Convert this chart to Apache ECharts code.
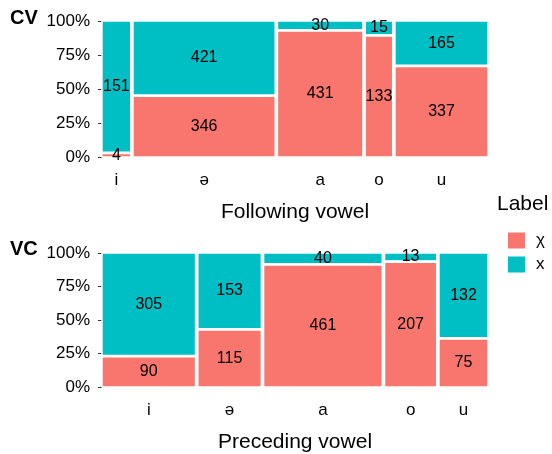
<!DOCTYPE html>
<html>
<head>
<meta charset="utf-8">
<script src="https://cdn.jsdelivr.net/npm/echarts@6/dist/echarts.min.js"></script>
<style>
  html, body { margin: 0; padding: 0; background: #fff; }
  #chart { width: 552px; height: 454px; }
</style>
</head>
<body>
<div id="chart"></div>
<script>
// Counts of each label by neighbouring vowel, for the two contexts
const vowels = ['i', 'ə', 'a', 'o', 'u'];
const labelNames = ['χ', 'x'];
const cvChi = [4, 346, 431, 133, 337];
const cvX = [151, 421, 30, 15, 165];
const vcChi = [90, 115, 461, 207, 75];
const vcX = [305, 153, 40, 13, 132];
const yTicks = [0, 0.25, 0.5, 0.75, 1];

const colors = { 'χ': '#F8766D', 'x': '#00BFC4' };
const FONT = 'Liberation Sans, Arial, sans-serif';
const GAP_X = 0.006;  // spacing between columns (fraction of the panel)
const GAP_Y = 0.01;   // spacing between stacked tiles

// Mosaic layout: column widths follow totals, tile heights follow shares
function mosaic(chi, x) {
  const totals = chi.map((c, i) => c + x[i]);
  const grand = totals.reduce((a, b) => a + b, 0);
  const usable = 1 - GAP_X * (totals.length - 1);
  let pos = 0;
  const red = [], cyan = [], centers = [];
  totals.forEach((t, i) => {
    const w = usable * t / grand;
    const x0 = pos, x1 = pos + w;
    const p = chi[i] / t;
    const ySplit = p * (1 - GAP_Y);
    red.push([x0, x1, 0, ySplit, chi[i]]);
    cyan.push([x0, x1, ySplit + GAP_Y, 1, x[i]]);
    centers.push((x0 + x1) / 2);
    pos = x1 + GAP_X;
  });
  return { red, cyan, centers };
}

const cv = mosaic(cvChi, cvX);
const vc = mosaic(vcChi, vcX);

function renderTile(params, api) {
  const a = api.coord([api.value(0), api.value(2)]);
  const b = api.coord([api.value(1), api.value(3)]);
  const color = colors[params.seriesName];
  return {
    type: 'rect',
    shape: { x: a[0], y: b[1], width: b[0] - a[0], height: a[1] - b[1] },
    style: { fill: color, stroke: '#ffffff', lineWidth: 1.4 },
    textContent: {
      style: {
        text: String(api.value(4)),
        fontFamily: FONT, fontSize: 16, fill: '#000'
      }
    },
    textConfig: { position: 'inside' }
  };
}

function xAxisFor(layout, title, gridIndex) {
  return {
    type: 'value', gridIndex, min: 0, max: 1,
    axisLine: { show: false }, axisTick: { show: false }, splitLine: { show: false },
    axisLabel: {
      customValues: layout.centers,
      margin: 15,
      fontFamily: FONT, fontSize: 17, color: '#000',
      formatter: v => {
        let best = 0;
        layout.centers.forEach((c, i) => {
          if (Math.abs(c - v) < Math.abs(layout.centers[best] - v)) best = i;
        });
        return vowels[best];
      }
    },
    name: title, nameLocation: 'middle', nameGap: 45,
    nameTextStyle: { fontFamily: FONT, fontSize: 21, color: '#000' }
  };
}

function yAxisFor(gridIndex) {
  return {
    type: 'value', gridIndex, min: 0, max: 1, interval: 0.25,
    axisLine: { show: false },
    axisTick: { show: true, length: 4, lineStyle: { color: '#333', width: 1 }, customValues: yTicks },
    splitLine: { show: false },
    axisLabel: {
      margin: 12, fontFamily: FONT, fontSize: 17, color: '#000',
      formatter: v => Math.round(v * 100) + '%'
    }
  };
}

function seriesFor(layout, idx) {
  return [
    { type: 'custom', name: 'χ', xAxisIndex: idx, yAxisIndex: idx, renderItem: renderTile,
      encode: { x: [0, 1], y: [2, 3] }, data: layout.red, itemStyle: { color: colors['χ'] } },
    { type: 'custom', name: 'x', xAxisIndex: idx, yAxisIndex: idx, renderItem: renderTile,
      encode: { x: [0, 1], y: [2, 3] }, data: layout.cyan, itemStyle: { color: colors['x'] } }
  ];
}

const chart = echarts.init(document.getElementById('chart'), null, { renderer: 'canvas' });
chart.setOption({
  animation: false,
  backgroundColor: '#fff',
  grid: [
    { left: 102, top: 21, width: 386, height: 136 },
    { left: 102, top: 253, width: 386, height: 136 }
  ],
  xAxis: [xAxisFor(cv, 'Following vowel', 0), xAxisFor(vc, 'Preceding vowel', 1)],
  yAxis: [yAxisFor(0), yAxisFor(1)],
  legend: {
    data: labelNames, orient: 'vertical', left: 503, top: 227,
    icon: 'rect', itemWidth: 17, itemHeight: 16, itemGap: 7,
    textStyle: { fontFamily: FONT, fontSize: 17, color: '#000', padding: [0, 0, 0, 6] }
  },
  graphic: [
    { type: 'text', left: 497, top: 194, style: { text: 'Label', fontFamily: FONT, fontSize: 21, fill: '#000' } },
    { type: 'text', left: 10, top: 8, style: { text: 'CV', fontFamily: FONT, fontSize: 20, fontWeight: 'bold', fill: '#000' } },
    { type: 'text', left: 10, top: 239, style: { text: 'VC', fontFamily: FONT, fontSize: 20, fontWeight: 'bold', fill: '#000' } }
  ],
  series: [...seriesFor(cv, 0), ...seriesFor(vc, 1)]
});
</script>
</body>
</html>
